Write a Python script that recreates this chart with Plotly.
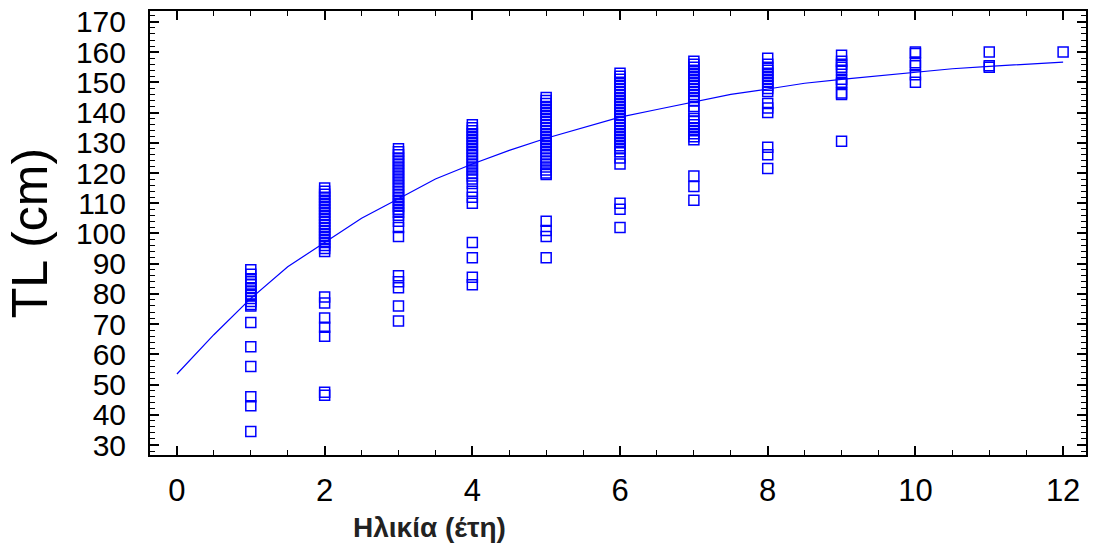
import plotly.graph_objects as go

# Observed total length (cm) per age group (years)
tl_age1 = [88, 86.5, 85, 84, 83, 82, 81, 80, 79.5, 78.5, 77.5, 76.5, 76, 70.5, 62.5, 56, 46, 43, 34.5]
tl_age2 = [115, 114, 113, 112, 111, 110, 109, 108, 107, 106, 105, 104, 103, 102, 101, 100, 99, 98, 97,
           96, 95, 94, 79, 77, 72, 69, 66, 47.5, 46.5]
tl_age3 = [128, 127, 126, 125, 124, 123, 122, 121, 120, 119, 118, 117, 116, 115, 114, 113, 112, 111, 110,
           109, 108, 107, 106, 104, 102, 99, 86, 84, 82, 76, 71]
tl_age4 = [136, 135, 134, 133, 132, 131, 130, 129, 128, 127, 126, 125, 124, 123, 122, 121, 120, 119, 118,
           116.5, 114, 112, 110, 97, 92, 85.5, 83]
tl_age5 = [145, 144, 143, 142, 141, 140, 139, 138, 137, 136, 135, 134, 133, 132, 131, 130, 129, 128, 127,
           126, 125, 124, 123, 122, 121, 120, 119.5, 104, 101, 99, 92]
tl_age6 = [153, 152, 151, 150, 149, 148, 147, 146, 145, 144, 143, 142, 141, 140, 139, 138, 137, 136, 135,
           134, 133, 132, 131, 130, 129, 128, 127, 125, 123, 110, 108, 102]
tl_age7 = [157, 156, 155, 154, 153, 152, 151, 150, 149, 148, 147, 146, 145, 144, 142, 140.5, 138, 137, 136,
           135, 134, 133, 132, 131, 119, 115.5, 111]
tl_age8 = [158, 156, 155, 154, 153, 152, 151, 150, 149, 148, 147, 143, 141.5, 140, 128.5, 126, 121.5]
tl_age9 = [159, 157, 156, 155, 154, 151, 150, 149.5, 146.5, 146, 130.5]
tl_age10 = [160, 159.5, 156.5, 155.5, 152.5, 150]
tl_age11 = [160, 155.5, 155]
tl_age12 = [160]

# Fitted growth curve
curve_age = [0, 0.5, 1, 1.5, 2, 2.5, 3, 3.5, 4, 4.5, 5, 5.5, 6, 6.5, 7, 7.5, 8, 8.5, 9, 9.5, 10, 10.5, 11, 11.5, 12]
curve_tl = [53.5, 66.5, 78.5, 89, 97, 105, 111.5, 118, 123, 127.5, 131.5, 135, 138.5, 141, 143.5, 146,
            147.8, 149.7, 151, 152.2, 153.2, 154.5, 155.3, 156, 156.7]

x_title = "Ηλικία (έτη)"
y_title = "TL (cm)"

groups = [tl_age1, tl_age2, tl_age3, tl_age4, tl_age5, tl_age6, tl_age7, tl_age8, tl_age9,
          tl_age10, tl_age11, tl_age12]
xs, ys = [], []
for age, vals in enumerate(groups, start=1):
    xs += [age] * len(vals)
    ys += vals

blue = "#0000FF"
fig = go.Figure()
fig.add_trace(go.Scatter(x=xs, y=ys, mode="markers",
                         marker=dict(symbol="square-open", size=10, color=blue, line=dict(width=1.5, color=blue)),
                         showlegend=False))
fig.add_trace(go.Scatter(x=curve_age, y=curve_tl, mode="lines", line=dict(color=blue, width=1.2),
                         showlegend=False))

axis_common = dict(showgrid=False, zeroline=False, showline=True, linecolor="black", linewidth=2,
                   mirror="ticks", ticks="inside", tickcolor="black", tickwidth=2)

fig.update_xaxes(**axis_common, range=[-0.365, 12.31], dtick=2, tick0=0, ticklen=9,
                 minor=dict(dtick=0.5, ticks="inside", ticklen=5, tickcolor="black", tickwidth=1),
                 tickfont=dict(family="Liberation Sans, Arial", size=31, color="black"),
                 ticklabelstandoff=7)
fig.update_yaxes(**axis_common, range=[26.7, 173.6], dtick=10, tick0=0, ticklen=9,
                 minor=dict(dtick=2, ticks="inside", ticklen=5, tickcolor="black", tickwidth=1),
                 tickfont=dict(family="Liberation Sans, Arial", size=30, color="black"),
                 ticklabelstandoff=16,
                 title=dict(text=y_title, standoff=12,
                            font=dict(family="Liberation Sans, Arial", size=50, color="black")))

fig.add_annotation(text="<b>" + x_title + "</b>", xref="paper", yref="paper",
                   x=0.2985, y=-0.164, xanchor="center", yanchor="middle", showarrow=False,
                   font=dict(family="Liberation Sans, Arial", size=28, color="#222"))

fig.update_layout(width=1093, height=547, margin=dict(l=150, r=5, t=11, b=92),
                  plot_bgcolor="white", paper_bgcolor="white")
fig.write_html("out.html")
